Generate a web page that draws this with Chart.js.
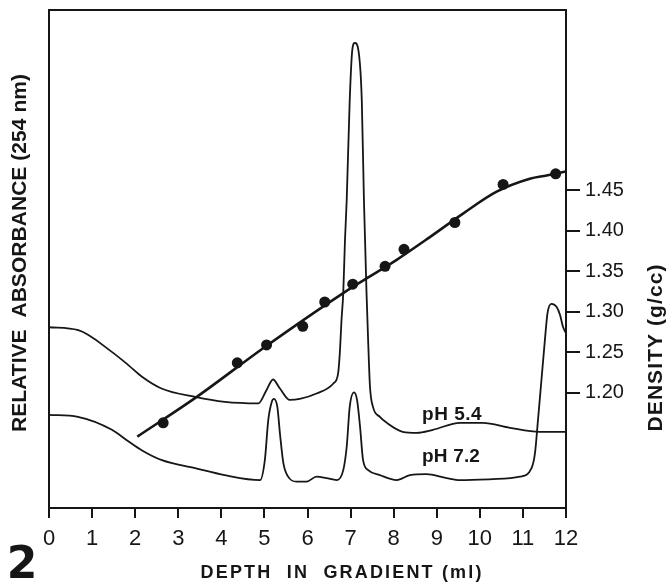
<!DOCTYPE html>
<html>
<head>
<meta charset="utf-8">
<script src="https://cdn.jsdelivr.net/npm/chart.js@4.4.0/dist/chart.umd.min.js"></script>
<style>
  html, body { margin: 0; padding: 0; background: #fff; }
</style>
</head>
<body>
<canvas id="chart" width="667" height="585"></canvas>
<script>
// depth in gradient (ml)
const xTicks = [0, 1, 2, 3, 4, 5, 6, 7, 8, 9, 10, 11, 12];
const densityTicks = [1.20, 1.25, 1.30, 1.35, 1.40, 1.45];

// relative absorbance, pH 5.4 trace
const depthPh54 = [0, 0.68, 1.45, 1.84, 2.15, 2.61, 3.39, 4.08, 4.86, 5.05, 5.20, 5.36, 5.59, 5.82, 6.21, 6.60, 6.71, 6.75, 6.79, 6.83, 6.87, 6.91, 6.98, 7.04, 7.10, 7.18, 7.26, 7.31, 7.37, 7.41, 7.45, 7.52, 7.68, 7.84, 8.21, 8.54, 8.91, 9.54, 10.07, 10.70, 11.39, 12.0];
const absPh54 = [36.3, 35.7, 31.4, 28.7, 26.4, 24.0, 22.3, 21.3, 21.0, 23.7, 25.8, 24.0, 21.7, 21.9, 23.0, 25.0, 27.0, 31.1, 37.8, 43.2, 53.8, 61.8, 81.9, 92.0, 93.4, 92.0, 81.9, 61.8, 43.2, 33.0, 24.4, 20.3, 18.3, 17.1, 15.3, 15.1, 15.7, 17.1, 17.1, 16.1, 15.3, 15.3];

// relative absorbance, pH 7.2 trace
const depthPh72 = [0, 0.67, 1.46, 1.84, 2.15, 2.62, 3.39, 4.08, 4.90, 5.01, 5.09, 5.17, 5.22, 5.30, 5.36, 5.44, 5.55, 5.75, 5.98, 6.21, 6.44, 6.68, 6.83, 6.91, 6.98, 7.08, 7.15, 7.22, 7.29, 7.41, 7.68, 8.07, 8.38, 8.76, 9.23, 9.54, 10.31, 10.93, 11.20, 11.28, 11.35, 11.43, 11.51, 11.57, 11.66, 11.78, 11.86, 11.93, 12.0];
const absPh72 = [18.7, 18.3, 15.7, 13.4, 11.6, 9.6, 8.0, 6.6, 5.6, 9.6, 17.7, 21.3, 21.9, 20.3, 15.0, 9.0, 6.3, 5.3, 5.3, 6.3, 6.0, 5.6, 7.6, 12.3, 20.3, 23.2, 21.7, 16.3, 9.6, 7.6, 6.6, 5.6, 6.6, 6.8, 6.0, 5.6, 5.8, 6.3, 8.0, 11.0, 17.7, 25.7, 33.7, 39.1, 41.0, 40.4, 38.8, 36.4, 35.1];

// density (g/cc): measured fractions and the drawn curve
const depthDots = [2.65, 4.37, 5.05, 5.89, 6.40, 7.05, 7.80, 8.24, 9.42, 10.54, 11.76];
const densityDots = [1.163, 1.237, 1.259, 1.282, 1.312, 1.334, 1.356, 1.377, 1.410, 1.457, 1.470];
const depthFit = [2.05, 3.43, 4.97, 6.83, 7.37, 8.07, 8.84, 9.61, 10.39, 11.16, 11.55, 12.0];
const densityFit = [1.146, 1.195, 1.255, 1.323, 1.341, 1.364, 1.392, 1.421, 1.448, 1.464, 1.468, 1.473];

const ink = '#161616';
const pts = (xs, ys) => xs.map((x, i) => ({ x: x, y: ys[i] }));

// text centred at x,y; squeezed or letter-spaced to the given width
function drawText(ctx, text, x, y, rot, font, width) {
  ctx.save();
  ctx.translate(x, y);
  ctx.rotate(rot);
  ctx.font = font;
  ctx.fillStyle = ink;
  ctx.textAlign = 'center';
  ctx.textBaseline = 'middle';
  if (!width) {
    ctx.fillText(text, 0, 0);
  } else {
    const w = ctx.measureText(text).width;
    if (w > width) {
      ctx.fillText(text, 0, 0, width);
    } else {
      const ls = (width - w) / text.length;
      ctx.letterSpacing = ls + 'px';
      ctx.fillText(text, ls / 2, 0);
    }
  }
  ctx.restore();
}

const frameAndLabels = {
  id: 'frameAndLabels',
  afterDatasetsDraw(chart) {
    const { ctx, chartArea, scales } = chart;
    // top edge of the box
    ctx.save();
    ctx.strokeStyle = ink;
    ctx.lineWidth = 2;
    ctx.beginPath();
    ctx.moveTo(chartArea.left - 1, chartArea.top);
    ctx.lineTo(chartArea.right + 1, chartArea.top);
    ctx.stroke();
    ctx.restore();

    const x = scales.x, a = scales.abs;
    drawText(ctx, 'pH 5.4', x.getPixelForValue(9.35), a.getPixelForValue(18.7), 0, 'bold 19px "Liberation Sans"', 60);
    drawText(ctx, 'pH 7.2', x.getPixelForValue(9.33), a.getPixelForValue(10.2), 0, 'bold 19px "Liberation Sans"', 58);

    drawText(ctx, 'RELATIVE  ABSORBANCE (254 nm)', 20, 253, -Math.PI / 2, 'bold 21px "Liberation Sans"', 358);
    drawText(ctx, 'DENSITY (g/cc)', 656, 348, -Math.PI / 2, 'bold 21px "Liberation Sans"', 168);
    drawText(ctx, 'DEPTH  IN  GRADIENT (ml)', 341, 573, 0, 'bold 18px "Liberation Sans"', 283);
    drawText(ctx, '2', 22, 567, 0, 'bold 44px "DejaVu Sans"');
  }
};

const noPad = (s) => { s.paddingTop = 0; s.paddingBottom = 0; };

new Chart(document.getElementById('chart'), {
  type: 'line',
  data: {
    datasets: [
      {
        label: 'pH 5.4',
        data: pts(depthPh54, absPh54),
        yAxisID: 'abs',
        borderColor: ink,
        borderWidth: 1.8,
        pointRadius: 0,
        cubicInterpolationMode: 'monotone'
      },
      {
        label: 'pH 7.2',
        data: pts(depthPh72, absPh72),
        yAxisID: 'abs',
        borderColor: ink,
        borderWidth: 1.8,
        pointRadius: 0,
        cubicInterpolationMode: 'monotone'
      },
      {
        label: 'density curve',
        data: pts(depthFit, densityFit),
        yAxisID: 'dens',
        borderColor: ink,
        borderWidth: 2.6,
        pointRadius: 0,
        cubicInterpolationMode: 'monotone'
      },
      {
        label: 'density',
        data: pts(depthDots, densityDots),
        yAxisID: 'dens',
        showLine: false,
        pointRadius: 5.5,
        pointBackgroundColor: ink,
        pointBorderColor: ink,
        pointBorderWidth: 0
      }
    ]
  },
  options: {
    responsive: false,
    animation: false,
    events: [],
    layout: { padding: { top: 10 } },
    plugins: { legend: { display: false }, tooltip: { enabled: false } },
    scales: {
      x: {
        type: 'linear',
        min: 0,
        max: 12,
        afterBuildTicks: (s) => { s.ticks = xTicks.map(v => ({ value: v })); },
        ticks: { font: { family: 'Liberation Sans', size: 22 }, color: ink, padding: 8, maxRotation: 0 },
        grid: { drawOnChartArea: false, tickLength: 10, lineWidth: 2, color: ink },
        border: { display: true, width: 2, color: ink },
        afterFit: (s) => { s.height = 77; }
      },
      abs: {
        position: 'left',
        min: 0,
        max: 100,
        ticks: { display: false },
        grid: { display: false },
        border: { display: true, width: 2, color: ink },
        afterFit: (s) => { s.width = 49; noPad(s); }
      },
      dens: {
        position: 'right',
        min: 1.058,
        max: 1.672,
        afterBuildTicks: (s) => { s.ticks = densityTicks.map(v => ({ value: v })); },
        ticks: { font: { family: 'Liberation Sans', size: 20 }, color: ink, padding: 5, callback: (v) => v.toFixed(2) },
        grid: { drawOnChartArea: false, tickLength: 14, lineWidth: 2, color: ink },
        border: { display: true, width: 2, color: ink },
        afterFit: (s) => { s.width = 101; noPad(s); }
      }
    }
  },
  plugins: [frameAndLabels]
});
</script>
</body>
</html>
